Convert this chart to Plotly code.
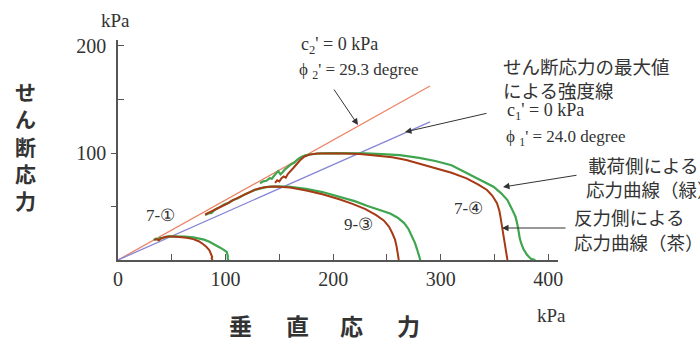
import plotly.graph_objects as go

# ---- data (kPa) ----
# strength lines (c' = 0), end points
line2_x = [0, 290]          # phi2' = 29.3 deg (red)
line2_y = [0, 162.6]
line1_x = [0, 290]          # phi1' = 24.0 deg (blue)
line1_y = [0, 129.1]

# 7-(1)
t71_green_x = [33, 35, 37, 39, 41, 44, 48, 55, 62, 70, 76, 80, 85, 90, 95, 99, 101, 102, 102, 103]
t71_green_y = [18.5, 19.8, 18.9, 20.6, 20.2, 21.6, 22.0, 22.0, 21.8, 21.2, 20.2, 19.0, 17.0, 14.5, 11.5, 9.0, 7.5, 4, 1, 0]
t71_brown_x = [34, 36, 38, 40, 43, 47, 52, 58, 64, 70, 75, 79, 82, 85, 86.5, 87.5, 87, 88]
t71_brown_y = [18.8, 19.5, 18.5, 20.2, 21.2, 22.0, 22.0, 21.6, 20.8, 19.5, 17.5, 15.0, 12.5, 9.0, 6, 3, 1.5, 0]

# 9-(3)
t93_green_x = [81, 84, 87, 90, 93, 96, 99, 103, 107, 111, 115, 119, 123, 127, 131, 136, 142, 150, 160, 175,
               190, 205, 220, 232, 243, 253, 260, 266, 270, 273.5, 276, 278, 279.5, 280, 281]
t93_green_y = [42, 43.5, 44, 47, 48.5, 50.5, 52, 53.5, 56, 57.5, 60, 62, 63.5, 65.5, 66.5, 67.8, 68.5, 68.8, 68.3, 66.5,
               63.5, 59.5, 55, 50.5, 46.5, 43.5, 39.5, 34.5, 29, 22, 16, 10, 5, 2, 0]
t93_brown_x = [81, 84, 87, 90, 94, 98, 102, 106, 110, 114, 118, 122, 127, 132, 138, 145, 152, 160, 175, 190,
               205, 218, 230, 240, 247, 252, 255, 257.5, 259, 260, 260.5, 261]
t93_brown_y = [42.5, 44, 45.5, 46.5, 49, 51, 53, 55.5, 57.5, 59.5, 61.5, 63.5, 65.5, 67, 68.3, 68.8, 68.5, 67.8, 65, 61.5,
               57, 52.5, 47.5, 42, 37, 31, 25, 19, 12.5, 6, 2, 0]

# 7-(4)
t74_green_x = [132, 135, 138, 141, 143, 145, 147, 149, 151, 153, 155, 158, 161, 164, 167, 170, 174, 180, 188, 200,
               215, 230, 245, 262, 280, 295, 310, 325, 338, 349, 356, 362, 366, 369.5, 371.5, 372.5, 373.5, 375, 377,
               380, 384, 388]
t74_green_y = [71.7, 73.5, 74, 76.5, 76, 79, 81, 83, 80, 82, 84.5, 87, 89.5, 91, 94, 96, 97.8, 98.8, 99.6, 99.8,
               99.8, 99.6, 99, 98, 95.5, 92.5, 88.5, 81, 74.5, 68.5, 62.5, 56, 48, 40.5, 32, 25, 20, 15, 10,
               5, 1, 0]
t74_brown_x = [146, 148, 150, 152, 154, 156, 158, 160, 163, 166, 169, 173, 178, 185, 195, 210, 225, 240, 255, 268,
               282, 295, 310, 324, 335, 343, 348, 352.3, 354.5, 355.5, 356.5, 357.5, 358.4, 359.5, 361, 362]
t74_brown_y = [72, 74.5, 73.5, 76.5, 78, 77, 80.5, 82.5, 86, 89.5, 93, 96.5, 98.5, 99.5, 99.8, 99.6, 99, 97.8, 96, 93.5,
               89.5, 86.5, 81.5, 76.3, 70.5, 65.4, 60, 53, 46, 40.5, 34, 28, 20, 12.4, 5, 0]

x_tick_vals = [0, 50, 100, 150, 200, 250, 300, 350, 400]
x_tick_text = ["0", "", "100", "", "200", "", "300", "", "400"]
y_tick_vals = [50, 100, 150, 200]
y_tick_text = ["", "100", "", "200"]
y_inner_ticks = [150, 200]
y_outer_ticks = [50, 100]

GREEN = "#3fa54f"
BROWN = "#a53a14"
RED = "#ec8466"
BLUE = "#8686d6"
SERIF = "Liberation Serif"
JP = "Noto Sans CJK JP"

fig = go.Figure()
fig.add_trace(go.Scatter(x=line2_x, y=line2_y, mode="lines", line=dict(color=RED, width=1.3)))
fig.add_trace(go.Scatter(x=line1_x, y=line1_y, mode="lines", line=dict(color=BLUE, width=1.3)))
for gx, gy, bx, by in [(t71_green_x, t71_green_y, t71_brown_x, t71_brown_y),
                       (t93_green_x, t93_green_y, t93_brown_x, t93_brown_y),
                       (t74_green_x, t74_green_y, t74_brown_x, t74_brown_y)]:
    fig.add_trace(go.Scatter(x=gx, y=gy, mode="lines", line=dict(color=GREEN, width=2.2)))
    fig.add_trace(go.Scatter(x=bx, y=by, mode="lines", line=dict(color=BROWN, width=2.0)))
# invisible trace so the overlay axis (outer ticks) is drawn
fig.add_trace(go.Scatter(x=line1_x, y=line1_y, yaxis="y2", mode="lines", opacity=0,
                         hoverinfo="skip", line=dict(width=0)))

L, R, T, B = 118, 142, 40, 80
W, H = 700, 340
PW, PH = W - L - R, H - T - B


def px(X):
    return (X - L) / PW


def py(Y):
    return (H - B - Y) / PH


anns = []


def text(X, Y, s, size=17, family=SERIF, xanchor="left", color="#333"):
    anns.append(dict(x=px(X), y=py(Y), xref="paper", yref="paper", text=s, showarrow=False,
                     xanchor=xanchor, yanchor="middle", font=dict(family=family, size=size, color=color)))


def arrow(hx, hy, tx, ty):
    anns.append(dict(x=px(hx), y=py(hy), xref="paper", yref="paper", text="", showarrow=True,
                     ax=tx - hx, ay=ty - hy, axref="pixel", ayref="pixel",
                     arrowhead=2, arrowsize=1.3, arrowwidth=1, arrowcolor="#333", standoff=0))


# axis units
text(115, 20, "kPa", size=19, xanchor="center")
text(551, 316, "kPa", size=19, xanchor="center")
# axis titles
anns.append(dict(x=px(25), y=py(145), xref="paper", yref="paper", showarrow=False,
                 text="<b>せ<br>ん<br>断<br>応<br>力</b>", xanchor="center", yanchor="middle",
                 font=dict(family=JP, size=21, color="#333")))
for cx, ch in zip([240, 297, 351, 408], ["垂", "直", "応", "力"]):
    anns.append(dict(x=px(cx), y=py(325), xref="paper", yref="paper", showarrow=False,
                     text="<b>" + ch + "</b>", xanchor="center", yanchor="middle",
                     font=dict(family=JP, size=23, color="#333")))
# test labels
text(160, 215, "7-①", size=17, xanchor="center")
text(358, 224, "9-③", size=17, xanchor="center")
text(468, 208, "7-④", size=17, xanchor="center")
# strength line notes
text(299, 46, "c<sub>2</sub>' = 0 kPa", size=18)
text(297, 71, "ϕ <sub>2</sub>' = 29.3 degree", size=17)
arrow(358, 125, 333, 88)
text(501, 66, "せん断応力の最大値", size=18.5, family=JP)
text(501, 90, "による強度線", size=18.5, family=JP)
text(505, 111, "c<sub>1</sub>' = 0 kPa", size=18)
text(504, 138, "ϕ <sub>1</sub>' = 24.0 degree", size=17)
arrow(405, 132, 488, 113)
# curve notes
text(586, 165, "載荷側による", size=18.5, family=JP)
text(584, 189, "応力曲線（緑）", size=18.5, family=JP)
arrow(503, 187, 578, 175)
text(572, 217, "反力側による", size=18.5, family=JP)
text(572, 242, "応力曲線（茶）", size=18.5, family=JP)
arrow(502, 228, 567, 228)

axis_common = dict(showgrid=False, zeroline=False, showline=True, linecolor="#555", linewidth=1.5,
                   ticklen=6, tickwidth=1, tickcolor="#555",
                   tickfont=dict(family=SERIF, size=20, color="#333"), fixedrange=True)

fig.update_layout(
    width=W, height=H,
    margin=dict(l=L, r=R, t=T, b=B),
    paper_bgcolor="white", plot_bgcolor="white",
    showlegend=False,
    xaxis=dict(range=[0, 409], tickmode="array", tickvals=x_tick_vals, ticktext=x_tick_text,
               ticks="inside", **axis_common),
    yaxis=dict(range=[0, 205.6], tickmode="array", tickvals=y_tick_vals, ticktext=y_tick_text,
               ticks="", ticklabelstandoff=6,
               minor=dict(tickmode="array", tickvals=y_inner_ticks, ticks="inside", ticklen=6,
                          tickcolor="#555", tickwidth=1, showgrid=False),
               **axis_common),
    yaxis2=dict(range=[0, 205.6], overlaying="y", side="left", tickmode="array", tickvals=y_outer_ticks,
                ticks="outside", ticklen=6, tickwidth=1, tickcolor="#555", showticklabels=False,
                showline=False, showgrid=False, zeroline=False, fixedrange=True),
    annotations=anns,
)

fig.write_html("out.html", config={"displayModeBar": False},
               post_script="document.body.style.margin='0';document.body.style.overflow='hidden';")
